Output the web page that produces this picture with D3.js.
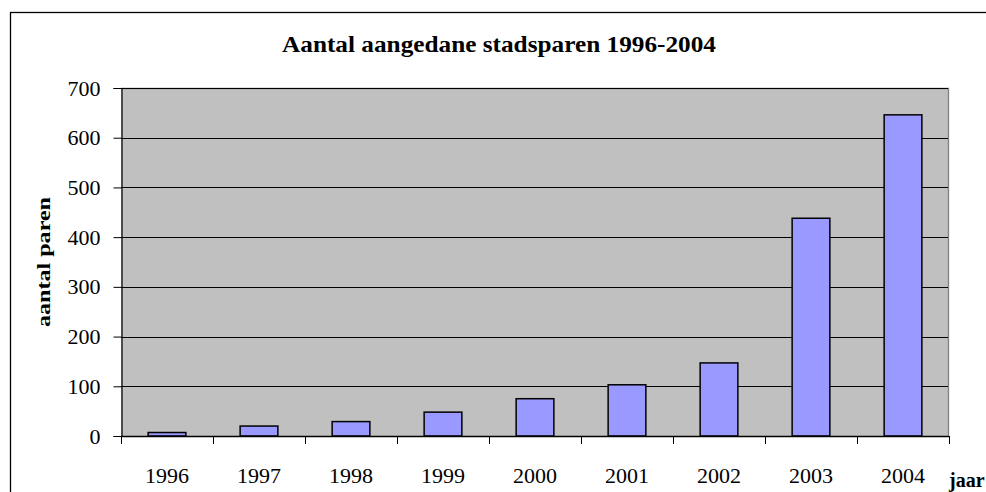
<!DOCTYPE html>
<html><head><meta charset="utf-8">
<script src="https://cdn.jsdelivr.net/npm/d3@7"></script>
<style>html,body{margin:0;padding:0;background:#fff;overflow:hidden}</style>
</head><body>
<svg id="c" width="986" height="492"></svg>
<script>
const years = ["1996","1997","1998","1999","2000","2001","2002","2003","2004"];
const counts = [7, 20, 29, 48, 75, 103, 147, 438, 646];
const yTicks = [0,100,200,300,400,500,600,700];
const titleText = "Aantal aangedane stadsparen 1996-2004";
const yTitle = "aantal paren";
const xTitle = "jaar";

const serif = "'Liberation Serif','Times New Roman',serif";
const svg = d3.select("#c");
const m = {left:121, right:949, top:88, bottom:436};
const x = d3.scaleBand().domain(years).range([m.left, m.right]).paddingInner(0.59).paddingOuter(0.295);
const xb = d3.scaleBand().domain(years).range([m.left, m.right]);
const y = d3.scaleLinear().domain([0,700]).range([m.bottom, m.top]);

// outer frame
svg.append("rect").attr("x",10.5).attr("y",12.5).attr("width",1000).attr("height",1000)
  .attr("fill","#fff").attr("stroke","#000").attr("stroke-width",1.3);

// plot area
svg.append("rect").attr("x",m.left).attr("y",m.top).attr("width",m.right-m.left).attr("height",m.bottom-m.top)
  .attr("fill","#c0c0c0");
svg.append("path").attr("d",`M${m.left},${m.top+0.5}H${m.right-0.5}V${m.bottom}`)
  .attr("fill","none").attr("stroke","#808080").attr("stroke-width",1.3);

// gridlines
svg.append("g").selectAll("line").data(yTicks.filter(d=>d>0)).join("line")
  .attr("x1",m.left).attr("x2",m.right-1).attr("y1",d=>Math.round(y(d))+0.5).attr("y2",d=>Math.round(y(d))+0.5)
  .attr("stroke","#000").attr("stroke-width",1);

// y axis
const ya = svg.append("g").attr("transform",`translate(${m.left+0.5},0)`)
  .call(d3.axisLeft(y).tickValues(yTicks).tickSize(8).tickPadding(13).tickFormat(d3.format("d")));
ya.select(".domain").attr("stroke","#000").attr("stroke-width",1.2);
ya.selectAll(".tick line").attr("stroke","#000");
ya.selectAll("text").attr("font-family",serif).attr("font-size",22).attr("fill","#000");

// bars
svg.append("g").selectAll("rect").data(counts).join("rect")
  .attr("x",(d,i)=>x(years[i])).attr("width",x.bandwidth())
  .attr("y",d=>y(d)).attr("height",d=>y(0)-y(d))
  .attr("fill","#9999ff").attr("stroke","#000").attr("stroke-width",1.5);

// x axis
const xa = svg.append("g").attr("transform",`translate(0,${m.bottom})`)
  .call(d3.axisBottom(xb).tickSize(0).tickPadding(31));
xa.select(".domain").remove();
xa.selectAll("text").attr("font-family",serif).attr("font-size",22).attr("fill","#000");
svg.append("line").attr("x1",m.left).attr("x2",m.right).attr("y1",m.bottom+0.5).attr("y2",m.bottom+0.5)
  .attr("stroke","#000").attr("stroke-width",1.3);
const bounds = years.map(d=>xb(d)).concat([m.right]);
svg.append("g").selectAll("line").data(bounds).join("line")
  .attr("x1",d=>Math.round(d)+0.5).attr("x2",d=>Math.round(d)+0.5).attr("y1",m.bottom).attr("y2",m.bottom+8)
  .attr("stroke","#000").attr("stroke-width",1);

// titles
svg.append("text").attr("x",282).attr("y",52)
  .attr("font-family",serif).attr("font-weight","bold").attr("font-size",24)
  .attr("textLength",434).attr("lengthAdjust","spacingAndGlyphs")
  .text(titleText);
svg.append("text").attr("transform","translate(50,327) rotate(-90)")
  .attr("font-family",serif).attr("font-weight","bold").attr("font-size",19)
  .attr("textLength",130).attr("lengthAdjust","spacingAndGlyphs")
  .text(yTitle);
svg.append("text").attr("x",949).attr("y",487)
  .attr("font-family",serif).attr("font-weight","bold").attr("font-size",20)
  .text(xTitle);
</script>
</body></html>
